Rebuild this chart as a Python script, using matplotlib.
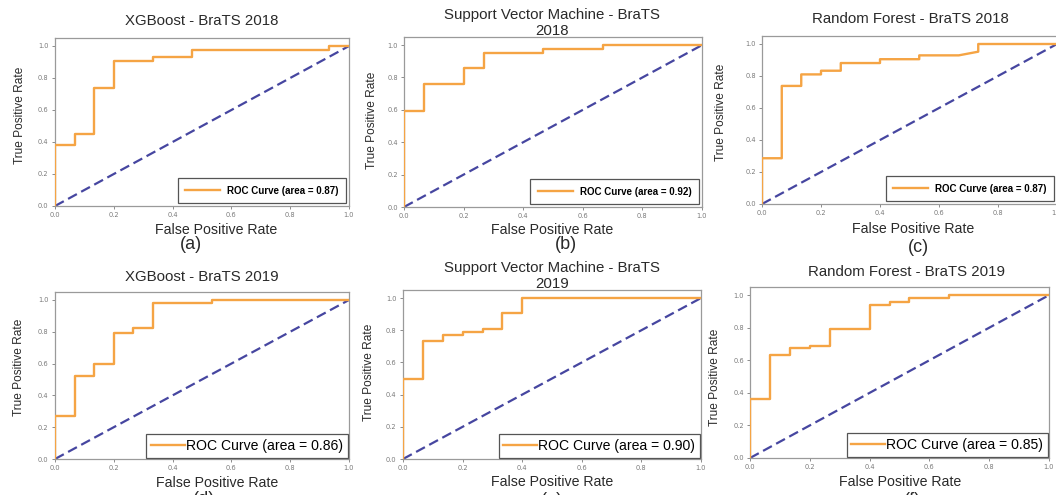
import matplotlib
matplotlib.use("Agg")
import matplotlib.pyplot as plt
from matplotlib import font_manager

W, H = 1056, 495

# ---------------- data ----------------
titles = ["XGBoost - BraTS 2018", "Support Vector Machine - BraTS\n2018", "Random Forest - BraTS 2018",
          "XGBoost - BraTS 2019", "Support Vector Machine - BraTS\n2019", "Random Forest - BraTS 2019"]
panel_tags = ["(a)", "(b)", "(c)", "(d)", "(e)", "(f)"]
auc_values = [0.87, 0.92, 0.87, 0.86, 0.90, 0.85]

fpr_a = [0.0, 0.0, 0.067, 0.067, 0.133, 0.133, 0.2, 0.2, 0.333, 0.333, 0.467, 0.467, 0.933, 0.933, 1.0]
tpr_a = [0.0, 0.381, 0.381, 0.452, 0.452, 0.738, 0.738, 0.905, 0.905, 0.929, 0.929, 0.976, 0.976, 1.0, 1.0]

fpr_b = [0.0, 0.0, 0.067, 0.067, 0.2, 0.2, 0.267, 0.267, 0.467, 0.467, 0.667, 0.667, 1.0]
tpr_b = [0.0, 0.595, 0.595, 0.762, 0.762, 0.857, 0.857, 0.952, 0.952, 0.976, 0.976, 1.0, 1.0]

fpr_c = [0.0, 0.0, 0.067, 0.067, 0.133, 0.133, 0.2, 0.2, 0.267, 0.267, 0.4, 0.4, 0.533, 0.533, 0.667, 0.733, 0.733, 1.0]
tpr_c = [0.0, 0.286, 0.286, 0.738, 0.738, 0.810, 0.810, 0.833, 0.833, 0.881, 0.881, 0.905, 0.905, 0.929, 0.929, 0.952, 1.0, 1.0]

fpr_d = [0.0, 0.0, 0.067, 0.067, 0.133, 0.133, 0.2, 0.2, 0.267, 0.267, 0.333, 0.333, 0.533, 0.533, 1.0]
tpr_d = [0.0, 0.27, 0.27, 0.52, 0.52, 0.595, 0.595, 0.79, 0.79, 0.825, 0.825, 0.98, 0.98, 1.0, 1.0]

fpr_e = [0.0, 0.0, 0.067, 0.067, 0.133, 0.133, 0.2, 0.2, 0.267, 0.267, 0.333, 0.333, 0.4, 0.4, 1.0]
tpr_e = [0.0, 0.5, 0.5, 0.735, 0.735, 0.77, 0.77, 0.79, 0.79, 0.81, 0.81, 0.905, 0.905, 1.0, 1.0]

fpr_f = [0.0, 0.0, 0.067, 0.067, 0.133, 0.133, 0.2, 0.2, 0.267, 0.267, 0.4, 0.4, 0.467, 0.467, 0.533, 0.533, 0.667, 0.667, 1.0]
tpr_f = [0.0, 0.365, 0.365, 0.635, 0.635, 0.675, 0.675, 0.69, 0.69, 0.79, 0.79, 0.94, 0.94, 0.96, 0.96, 0.98, 0.98, 1.0, 1.0]

chance_x = [0.0, 1.0]
chance_y = [0.0, 1.0]

tick_values = [0.0, 0.2, 0.4, 0.6, 0.8, 1.0]
tick_labels = ["0.0", "0.2", "0.4", "0.6", "0.8", "1.0"]

curves = [(fpr_a, tpr_a), (fpr_b, tpr_b), (fpr_c, tpr_c), (fpr_d, tpr_d), (fpr_e, tpr_e), (fpr_f, tpr_f)]

# ---------------- layout (pixels) ----------------
# axes boxes: left, top, right, bottom
axes_px = [(55, 38, 349, 206), (404, 37, 702, 207), (762, 36, 1057, 204),
           (55, 292, 349, 459), (403, 290, 701, 459), (750, 287, 1049, 458)]
title_px = [(202, 21), (552, 23), (910, 19), (202, 277), (552, 276), (906, 272)]
xlabel_px = [(216, 230), (552, 230), (913, 229), (217, 483), (552, 482), (900, 482)]
ylabel_px = [(20, 115), (372, 120), (721, 112), (19, 367), (369, 372), (715, 377)]
tag_px = [(191, 244), (566, 244), (918, 247), (204, 499), (552, 500), (912, 500)]

ORANGE = "#F5A444"
NAVY = "#4646A0"
FRAME = "#9a9a9a"
TICKC = "#7a7a7a"
TEXTC = "#2a2a2a"

names = {f.name for f in font_manager.fontManager.ttflist}
if "Liberation Sans Narrow" in names:
    ylab_font = dict(family="Liberation Sans Narrow", size=10.5)
else:
    ylab_font = dict(family="Liberation Sans", size=8.6)

fig = plt.figure(figsize=(W / 100, H / 100), dpi=100)
fig.patch.set_facecolor("white")

def fx(px):
    return px / W

def fy(py):
    return 1 - py / H

for i in range(6):
    l, t, r, b = axes_px[i]
    ax = fig.add_axes([fx(l), fy(b), (r - l) / W, (b - t) / H])
    fpr, tpr = curves[i]
    ax.plot(fpr, tpr, color=ORANGE, lw=1.7, label="ROC Curve (area = %.2f)" % auc_values[i], zorder=3)
    ax.plot(chance_x, chance_y, color=NAVY, lw=1.6, linestyle=(0, (4.5, 2.2)), zorder=2)
    ax.set_xlim(0.0, 1.0)
    ax.set_ylim(0.0, 1.05)
    ax.set_xticks(tick_values)
    ax.set_xticklabels(tick_labels)
    ax.set_yticks(tick_values)
    ax.set_yticklabels(tick_labels)
    ax.tick_params(axis="both", labelsize=4.8, colors=TICKC, length=2, width=0.6, pad=2.5,
                   labelcolor=TICKC)
    for sp in ax.spines.values():
        sp.set_color(FRAME)
        sp.set_linewidth(0.9)

    if i < 3:
        leg = ax.legend(loc="lower right", prop=dict(family="Liberation Sans", weight="bold", size=7.0),
                        frameon=True, fancybox=False, framealpha=1, edgecolor="#555555",
                        borderaxespad=0.3, borderpad=0.75, handlelength=3.6, handletextpad=0.75)
    else:
        leg = ax.legend(loc="lower right", prop=dict(family="Liberation Sans", size=10.1),
                        frameon=True, fancybox=False, framealpha=1, edgecolor="#555555",
                        borderaxespad=0.1, borderpad=0.35, handlelength=2.4, handletextpad=0.05)
    leg.get_frame().set_linewidth(0.9)

    tx, ty = title_px[i]
    fig.text(fx(tx), fy(ty), titles[i], ha="center", va="center", family="Liberation Sans",
             fontsize=10.8, color=TEXTC, linespacing=1.15)
    xx, xy = xlabel_px[i]
    fig.text(fx(xx), fy(xy), "False Positive Rate", ha="center", va="center",
             family="Liberation Sans", fontsize=10.2, color=TEXTC)
    yx, yy = ylabel_px[i]
    fig.text(fx(yx), fy(yy), "True Positive Rate", ha="center", va="center", rotation=90,
             color=TEXTC, **ylab_font)
    gx, gy = tag_px[i]
    fig.text(fx(gx), fy(gy), panel_tags[i], ha="center", va="center", family="Liberation Sans",
             fontsize=13, color=TEXTC)

fig.savefig("out.png", dpi=100, facecolor="white")
